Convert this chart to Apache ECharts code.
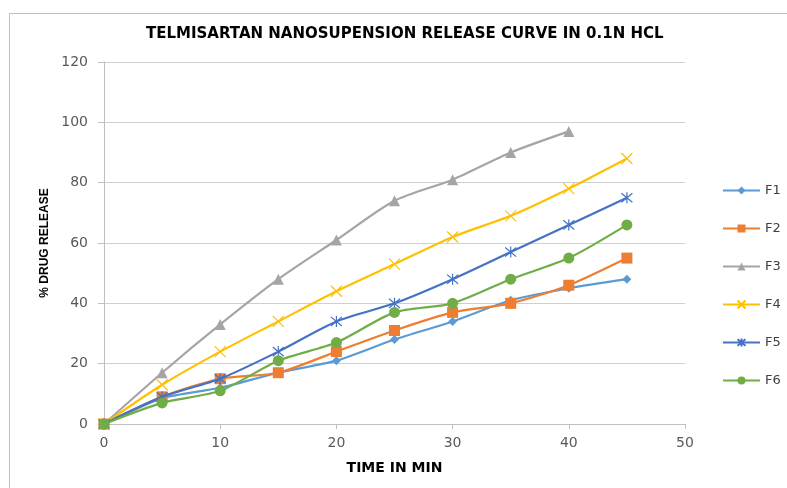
<!DOCTYPE html>
<html>
<head>
<meta charset="utf-8">
<script src="https://cdn.jsdelivr.net/npm/echarts@6/dist/echarts.min.js"></script>
<style>html,body{margin:0;padding:0;background:#fff}#c{width:787px;height:488px}</style>
</head>
<body>
<div id="c"></div>
<script>
const times = [0, 5, 10, 15, 20, 25, 30, 35, 40, 45];
const F1 = [0, 8.5, 12, 17, 21, 28, 34, 41, 45, 48];
const F2 = [0, 9, 15, 17, 24, 31, 37, 40, 46, 55];
const F3 = [0, 17, 33, 48, 61, 74, 81, 90, 97];
const F4 = [0, 13, 24, 34, 44, 53, 62, 69, 78, 88];
const F5 = [0, 9, 15, 24, 34, 40, 48, 57, 66, 75];
const F6 = [0, 7, 11, 21, 27, 37, 40, 48, 55, 66];
const seriesNames = ['F1', 'F2', 'F3', 'F4', 'F5', 'F6'];
const seriesValues = [F1, F2, F3, F4, F5, F6];
const colors = ['#5B9BD5', '#ED7D31', '#A5A5A5', '#FFC000', '#4472C4', '#70AD47'];
const symbols = ['diamond', 'rect', 'triangle',
  'path://M0,0L10,10M10,0L0,10',
  'path://M0,0L10,10M10,0L0,10M5,-1L5,11',
  'circle'];
const symbolSizes = [9, 11, 11, 11, 11, 11];
const wide = 'DejaVu Sans, sans-serif';
const narrow = 'Liberation Sans, Arial, sans-serif';

const chart = echarts.init(document.getElementById('c'));
chart.setOption({
  animation: false,
  backgroundColor: '#fff',
  graphic: [{
    type: 'rect', left: 7, top: 11, shape: {width: 800, height: 500},
    style: {fill: 'none', stroke: '#BFBFBF', lineWidth: 1}, z: -1
  }],
  title: {
    text: 'TELMISARTAN NANOSUPENSION RELEASE CURVE IN 0.1N HCL',
    left: 146, top: 27, padding: 0,
    textStyle: {fontFamily: wide, fontWeight: 'bold', fontSize: 15, color: '#000'}
  },
  legend: {
    orient: 'vertical', left: 722, top: 184, padding: 0,
    itemWidth: 37, itemHeight: 10, itemGap: 25,
    textStyle: {fontFamily: wide, fontSize: 13, color: '#404040'},
    data: seriesNames
  },
  grid: {left: 104, right: 102, top: 62, bottom: 64, containLabel: false},
  xAxis: {
    type: 'value', min: 0, max: 50, interval: 10,
    name: 'TIME IN MIN', nameLocation: 'middle', nameGap: 37,
    nameTextStyle: {fontFamily: wide, fontWeight: 'bold', fontSize: 14, color: '#000'},
    axisLine: {show: true, lineStyle: {color: '#BFBFBF', width: 1}},
    axisTick: {show: true, length: 5, lineStyle: {color: '#BFBFBF'}},
    axisLabel: {fontFamily: wide, fontSize: 14, color: '#595959', margin: 12},
    splitLine: {show: false}
  },
  yAxis: {
    type: 'value', min: 0, max: 120, interval: 20,
    name: '% DRUG RELEASE', nameLocation: 'middle', nameGap: 53, nameRotate: 90,
    nameTextStyle: {fontFamily: narrow, fontWeight: 'bold', fontSize: 12, color: '#000'},
    axisLine: {show: true, lineStyle: {color: '#BFBFBF', width: 1}},
    axisTick: {show: true, length: 6, lineStyle: {color: '#BFBFBF'}},
    axisLabel: {fontFamily: wide, fontSize: 14, color: '#595959', margin: 16},
    splitLine: {show: true, lineStyle: {color: '#CFCFCF', width: 1.2}}
  },
  series: seriesNames.map((n, i) => ({
    name: n, type: 'line',
    data: seriesValues[i].map((v, j) => [times[j], v]),
    smooth: 0.25,
    symbol: symbols[i], symbolSize: symbolSizes[i], showAllSymbol: true,
    lineStyle: {color: colors[i], width: 2.2},
    itemStyle: {color: colors[i], borderColor: colors[i],
      borderWidth: (i === 3 || i === 4) ? 1.2 : 0},
    z: 2 + i
  }))
});
</script>
</body>
</html>
